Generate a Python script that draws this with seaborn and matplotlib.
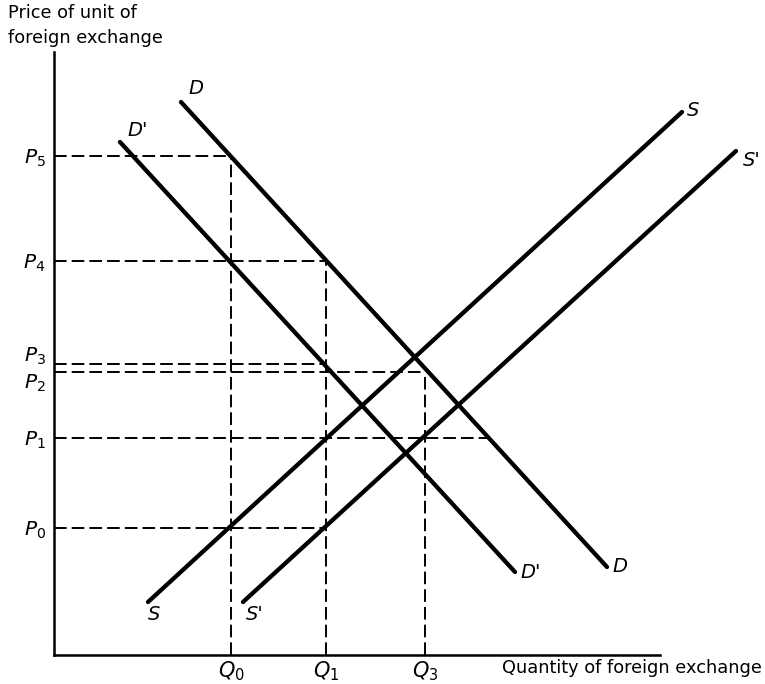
import matplotlib.pyplot as plt
import matplotlib.transforms as mtransforms
import pandas as pd
import numpy as np
import seaborn as sns

# quantity levels on the horizontal axis
q_names = ['$Q_0$', '$Q_1$', '$Q_3$']
q_levels = [177, 272, 371]

# price levels on the vertical axis
p_names = ['$P_0$', '$P_1$', '$P_2$', '$P_3$', '$P_4$', '$P_5$']
p_levels = [127, 217, 283, 291, 394, 499]

# straight supply and demand schedules: (start, end)
curve_names = ['S', "S'", 'D', "D'"]
curve_q = [[94, 628], [189, 682], [127, 553], [66, 461]]
curve_p = [[53, 543], [53, 504], [553, 88], [513, 83]]

# how far each dashed price guide runs and how high each quantity guide goes
p_guide_to = ['Q1', 'D', 'Q3', 'Q1', 'Q1', 'Q0']
q_guide_to = [499, 394, 283]

sns.set_theme(style='white', rc={'text.color': 'black', 'xtick.color': 'black',
                                 'ytick.color': 'black', 'axes.edgecolor': 'black'})
plt.rcParams['font.family'] = ['DejaVu Sans']
plt.rcParams['mathtext.fontset'] = 'dejavusans'

rows = []
for name, qs, ps in zip(curve_names, curve_q, curve_p):
    for q, p in zip(qs, ps):
        rows.append({'curve': name, 'q': q, 'p': p})
df = pd.DataFrame(rows)

fig = plt.figure(figsize=(7.65, 6.84), dpi=100)
ax = fig.add_axes([54/765, 29/684, 711/765, 655/684])
ax.set_xlim(0, 711)
ax.set_ylim(0, 655)

sns.lineplot(data=df, x='q', y='p', units='curve', estimator=None, sort=False,
             color='black', lw=3.1, solid_capstyle='round', ax=ax)

# where D crosses the price P1
d_q, d_p = curve_q[2], curve_p[2]
ends = {'Q0': q_levels[0], 'Q1': q_levels[1], 'Q3': q_levels[2]}
dash = dict(color='black', lw=1.4, linestyle=(0, (6.5, 2.6)))
for p, to in zip(p_levels, p_guide_to):
    if to == 'D':
        x_end = np.interp(p, d_p[::-1], d_q[::-1])
    else:
        x_end = ends[to]
    ax.hlines(p, 0, x_end, **dash)
for q, top in zip(q_levels, q_guide_to):
    ax.vlines(q, 0, top, **dash)

# curve end labels
label_off = {('S', 0): (6, -12), ('S', 1): (11, 2), ("S'", 0): (12, -12), ("S'", 1): (16, -10),
             ('D', 0): (15, 13), ('D', 1): (13, 0), ("D'", 0): (18, 11), ("D'", 1): (16, 0)}
for name, qs, ps in zip(curve_names, curve_q, curve_p):
    for i in range(2):
        dx, dy = label_off[(name, i)]
        ax.text(qs[i] + dx, ps[i] + dy, name, style='italic', fontsize=14,
                ha='center', va='center')

ax.set_xticks(q_levels, q_names, fontsize=15)
ax.set_yticks(p_levels, p_names, fontsize=14.5)
ax.tick_params(length=0)
ax.tick_params(axis='x', pad=3)
ax.tick_params(axis='y', pad=6)
ax.set_xlabel('')
ax.set_ylabel('')

# P3 and P2 labels sit apart since the lines are so close
labs = ax.get_yticklabels()
for lab, dy in zip(labs, [0, 0, -9, 10, 0, 0]):
    lab.set_transform(lab.get_transform() +
                      mtransforms.ScaledTranslation(0, dy/100, fig.dpi_scale_trans))

sns.despine(ax=ax)
for s in ['left', 'bottom']:
    ax.spines[s].set_linewidth(1.8)
ax.spines['left'].set_bounds(0, 603)
ax.spines['bottom'].set_bounds(0, 606)

ax.text(448, -13, 'Quantity of foreign exchange', fontsize=12.8, ha='left', va='center')
fig.text(8/765, 1 - 4/684, 'Price of unit of\nforeign exchange', fontsize=12.8,
         ha='left', va='top', linespacing=1.5)

fig.savefig('out.png', dpi=100)
